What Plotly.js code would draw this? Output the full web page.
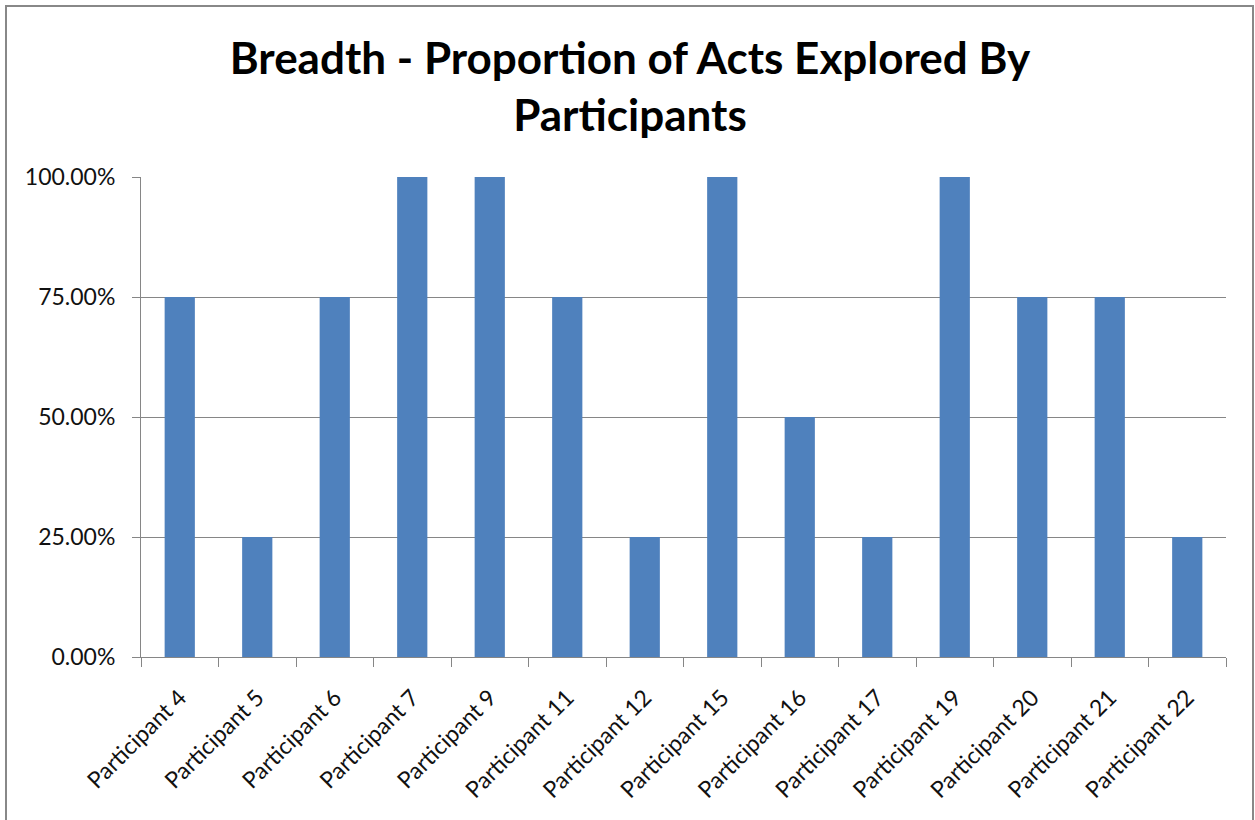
<!DOCTYPE html>
<html>
<head>
<meta charset="utf-8">
<script src="https://cdn.plot.ly/plotly-3.0.1.min.js"></script>
<style>
html,body{margin:0;padding:0;background:#fff;}
#wrap{position:relative;width:1255px;height:820px;}
#chart{position:absolute;left:0;top:0;width:1255px;height:820px;}
#frame{position:absolute;left:5px;top:5px;width:1245px;height:830px;border:2px solid #888;pointer-events:none;}
</style>
</head>
<body>
<div id="wrap"><div id="chart"></div><div id="frame"></div></div>
<script>
const categories = ["Participant 4","Participant 5","Participant 6","Participant 7","Participant 9","Participant 11","Participant 12","Participant 15","Participant 16","Participant 17","Participant 19","Participant 20","Participant 21","Participant 22"];
const proportions = [0.75,0.25,0.75,1.00,1.00,0.75,0.25,1.00,0.50,0.25,1.00,0.75,0.75,0.25];
const yTickVals = [0,0.25,0.5,0.75,1];
const yTickText = ["0.00%","25.00%","50.00%","75.00%","100.00%"];
const titleText = "Breadth - Proportion of Acts Explored By<br>Participants";

const font = "Lato, 'Open Sans', 'Liberation Sans', sans-serif";

Plotly.newPlot("chart", [{
  type: "bar",
  x: categories,
  y: proportions,
  marker: {color: "#4F81BD"},
  hoverinfo: "x+y"
}], {
  width: 1255, height: 820,
  margin: {l: 141, r: 29, t: 177, b: 163},
  paper_bgcolor: "#fff", plot_bgcolor: "#fff",
  bargap: 0.61,
  showlegend: false,
  title: {
    text: titleText,
    font: {family: font, size: 44, color: "#000", weight: "bold"},
    x: 0.502, xref: "container", xanchor: "center",
    y: 0.910, yref: "container", yanchor: "middle"
  },
  xaxis: {
    type: "category",
    tickangle: -45,
    tickson: "boundaries",
    ticks: "outside", ticklen: 9, tickcolor: "#868686", tickwidth: 1,
    showline: true, linecolor: "#868686", linewidth: 1,
    showgrid: false,
    ticklabelstandoff: 17,
    tickfont: {family: font, size: 23, color: "#111"}
  },
  yaxis: {
    range: [0, 1],
    tickvals: yTickVals,
    ticktext: yTickText,
    ticks: "outside", ticklen: 8, tickcolor: "#868686", tickwidth: 1,
    showline: true, linecolor: "#868686", linewidth: 1,
    showgrid: true, gridcolor: "#868686", gridwidth: 1,
    zeroline: false,
    ticklabelstandoff: 12,
    tickfont: {family: font, size: 23, color: "#111"}
  }
}, {displayModeBar: false, staticPlot: true});
</script>
</body>
</html>
